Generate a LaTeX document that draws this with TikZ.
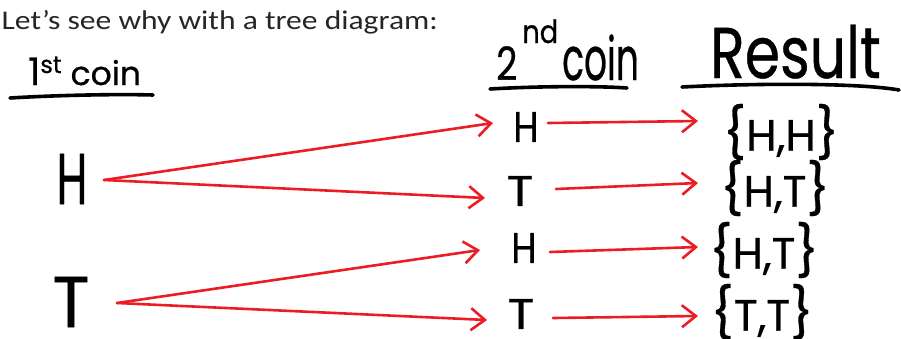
\documentclass[tikz,border=0pt]{standalone}
\usepackage{fontspec}
\usepackage{graphicx}
\usetikzlibrary{arrows.meta}
\newfontfamily\bodyfont{Carlito}
\newfontfamily\handfont[FakeBold=0.6]{Poppins}
\definecolor{branchred}{HTML}{EC1C24}
\definecolor{bodygray}{HTML}{262626}
\newcommand{\hsz}[1]{\fontsize{#1}{#1}\selectfont}
\newcommand{\nar}[2]{\scalebox{#1}[1]{#2}}
\newcommand{\outcome}[2]{{\hsz{50}\{}{\hsz{44}#1,#2}{\hsz{50}\}}}
\begin{document}
\begin{tikzpicture}[x=1pt,y=-1pt,
  hand/.style={font=\handfont, inner sep=0pt, text=black},
  branch/.style={draw=branchred, line width=2.6pt, line cap=round,
    -{Straight Barb[length=14pt,width=22pt,line width=2.6pt]}},
  rule/.style={line width=3.6pt, line cap=round, black}]
\useasboundingbox (0,0) rectangle (901,338);

% heading sentence
\node[font=\bodyfont\hsz{27}, text=bodygray, inner sep=0pt, anchor=base east] (title) at (438,29)
  {\nar{1.17}{Let’s see why with a tree diagram:}};

% column headings
\node[hand, anchor=base west] (head1) at (28,85)
  {{\hsz{38}1}\raisebox{12pt}{\hsz{24}st}\hspace{9pt}{\hsz{33}coin}};
\node[hand, anchor=base west] (head2) at (496,80)
  {{\hsz{46}\nar{0.8}{2}}\hspace{5pt}\raisebox{37pt}{\hsz{32}\nar{0.85}{nd}}\hspace{4pt}{\hsz{60}\nar{0.6}{coin}}};
\node[hand, anchor=base west] (head3) at (710,78)
  {\hsz{72}\nar{0.79}{Result}};

\draw[rule] (10,98) .. controls (60,95) and (120,94) .. (153,95);
\draw[rule] (490,89) .. controls (540,86) and (600,86) .. (627,88);
\draw[rule] (682,87) .. controls (760,83) and (860,83) .. (899,90);

% first coin
\node[hand] (h1) at (72,179) {\hsz{72}\nar{0.62}{H}};
\node[hand] (t1) at (71,302) {\hsz{72}\nar{0.95}{T}};

% second coin
\node[hand] (a1) at (526,127) {\hsz{43}\nar{0.85}{H}};
\node[hand] (a2) at (520,191) {\hsz{43}\nar{1.15}{T}};
\node[hand] (a3) at (524,248) {\hsz{43}\nar{0.85}{H}};
\node[hand] (a4) at (521,314) {\hsz{43}\nar{1.15}{T}};

% outcomes
\node[hand] (r1) at (781,132) {\outcome{H}{H}};
\node[hand] (r2) at (775,188) {\outcome{H}{T}};
\node[hand] (r3) at (764,250) {\outcome{H}{T}};
\node[hand] (r4) at (762,312) {\outcome{T}{T}};

% branches
\draw[branch] ([shift={(32,1)}]h1.center) -- ([shift={(-33,-4)}]a1.center);
\draw[branch] ([shift={(32,1)}]h1.center) -- ([shift={(-35,7)}]a2.center);
\draw[branch] ([shift={(46,1)}]t1.center) -- ([shift={(-44,2)}]a3.center);
\draw[branch] ([shift={(46,1)}]t1.center) -- ([shift={(-34,6)}]a4.center);

\draw[branch] ([shift={(22,-4)}]a1.center) -- ([shift={(-83,-11)}]r1.center);
\draw[branch] ([shift={(36,-2)}]a2.center) -- ([shift={(-77,-5)}]r2.center);
\draw[branch] ([shift={(26,4)}]a3.center) -- ([shift={(-66,-3)}]r3.center);
\draw[branch] ([shift={(32,4)}]a4.center) -- ([shift={(-64,4)}]r4.center);
\end{tikzpicture}
\end{document}
